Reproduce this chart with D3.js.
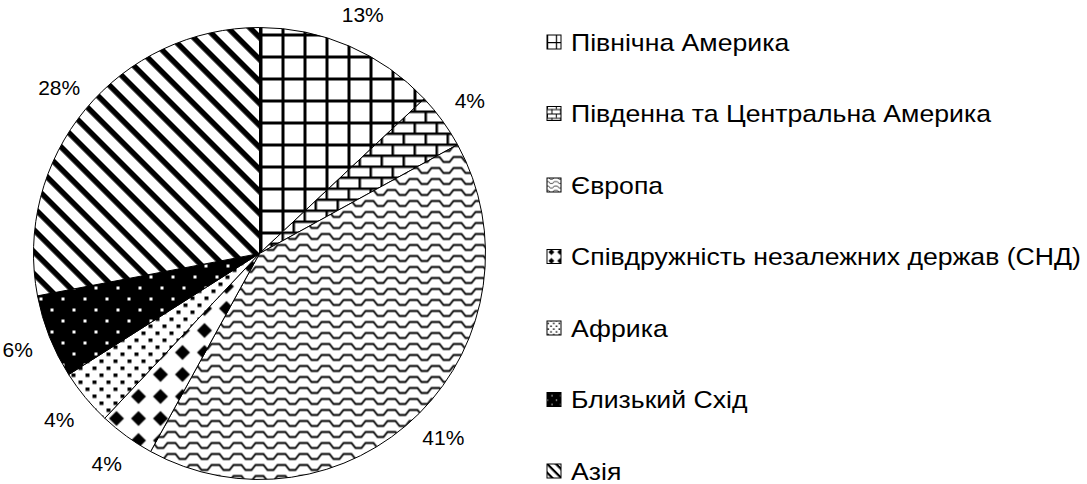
<!DOCTYPE html>
<html>
<head>
<meta charset="utf-8">
<script src="https://cdn.jsdelivr.net/npm/d3@7"></script>
<style>
  html, body { margin: 0; padding: 0; background: #fff; }
  svg { display: block; }
  text { font-family: "Liberation Sans", Arial, sans-serif; fill: #000; }
</style>
</head>
<body>
<div id="chart"></div>
<script>
// Region shares (%), clockwise from 12 o'clock
const regions = [
  "Північна Америка",
  "Південна та Центральна Америка",
  "Європа",
  "Співдружність незалежних держав (СНД)",
  "Африка",
  "Близький Схід",
  "Азія"
];
const shares = [13, 4, 41, 4, 4, 6, 28];
const patternNames = ["grid", "brick", "wave", "diamond", "confetti", "dots", "stripes"];

const width = 1087, height = 484;
const cx = 259.5, cy = 253.5, radius = 226;

const svg = d3.select("#chart")
  .append("svg")
  .attr("width", width)
  .attr("height", height);

svg.append("rect").attr("width", width).attr("height", height).attr("fill", "#fff");

const defs = svg.append("defs");

// pattern builders (unit cell ~22px, like an 8x8 Excel fill upscaled)
function makePattern(name, id, k) {
  const p = defs.append("pattern")
    .attr("id", id)
    .attr("patternUnits", "userSpaceOnUse");
  let w = 22, h = 22, tr = `scale(${k})`;
  if (name === "wave") h = 11;
  if (name === "confetti") { w = 14; h = 14; }
  if (name === "stripes") { w = 22; h = 22 / Math.SQRT2; tr = `scale(${k}) rotate(45)`; }
  p.attr("width", w).attr("height", h).attr("patternTransform", tr);
  p.append("rect").attr("width", w).attr("height", h)
    .attr("fill", name === "dots" ? "#000" : "#fff");

  if (name === "grid") {
    p.append("rect").attr("x", 0).attr("y", 0).attr("width", 3).attr("height", 22).attr("fill", "#000");
    p.append("rect").attr("x", 0).attr("y", 0).attr("width", 22).attr("height", 3).attr("fill", "#000");
  } else if (name === "brick") {
    p.append("rect").attr("x", 0).attr("y", 0).attr("width", 22).attr("height", 2.5).attr("fill", "#000");
    p.append("rect").attr("x", 0).attr("y", 11).attr("width", 22).attr("height", 2.5).attr("fill", "#000");
    p.append("rect").attr("x", 0).attr("y", 0).attr("width", 2.5).attr("height", 11).attr("fill", "#000");
    p.append("rect").attr("x", 11).attr("y", 11).attr("width", 2.5).attr("height", 11).attr("fill", "#000");
  } else if (name === "wave") {
    p.append("path")
      .attr("d", "M-2,2.5 H4 L8,7.5 H14 L18,2.5 H24")
      .attr("fill", "none").attr("stroke", "#000").attr("stroke-width", 1.8);
  } else if (name === "diamond") {
    p.append("path")
      .attr("d", "M11,3.5 L18.5,11 L11,18.5 L3.5,11 Z")
      .attr("fill", "#000");
  } else if (name === "confetti") {
    p.append("rect").attr("x", 1).attr("y", 1).attr("width", 4).attr("height", 3.5).attr("fill", "#000");
    p.append("rect").attr("x", 8).attr("y", 8).attr("width", 4).attr("height", 3.5).attr("fill", "#000");
  } else if (name === "dots") {
    p.append("rect").attr("x", 0).attr("y", 0).attr("width", 3).attr("height", 3).attr("fill", "#fff");
    p.append("rect").attr("x", 11).attr("y", 11).attr("width", 3).attr("height", 3).attr("fill", "#fff");
  } else if (name === "stripes") {
    p.append("rect").attr("x", 0).attr("y", 0).attr("width", w).attr("height", 5.5).attr("fill", "#000");
  }
}

patternNames.forEach((n) => {
  makePattern(n, "pat-" + n, 1);
  makePattern(n, "pat-sm-" + n, 0.4);
});

// Pie
const pie = d3.pie().sort(null).value((d) => d)
  .startAngle(0).endAngle(2 * Math.PI);
const arcs = pie(shares);

const arc = d3.arc().innerRadius(0).outerRadius(radius);
const labelArc = d3.arc().innerRadius(radius + 34).outerRadius(radius + 34);

const g = svg.append("g").attr("transform", `translate(${cx},${cy})`);

g.selectAll("path.slice")
  .data(arcs)
  .join("path")
  .attr("class", "slice")
  .attr("d", arc)
  .attr("fill", (d, i) => `url(#pat-${patternNames[i]})`)
  .attr("stroke", "#000")
  .attr("stroke-width", 1);

g.selectAll("text.pct")
  .data(arcs)
  .join("text")
  .attr("class", "pct")
  .attr("transform", (d) => `translate(${labelArc.centroid(d)})`)
  .attr("text-anchor", "middle")
  .attr("dy", "0.36em")
  .attr("font-size", "21px")
  .text((d) => d.data + "%");

// Legend
const legendY = d3.scalePoint().domain(regions).range([42, 471]);
const legend = svg.append("g").attr("transform", "translate(547,0)");

const items = legend.selectAll("g.item")
  .data(regions)
  .join("g")
  .attr("class", "item")
  .attr("transform", (d) => `translate(0,${legendY(d)})`);

items.append("rect")
  .attr("x", 0).attr("y", -7)
  .attr("width", 14).attr("height", 14)
  .attr("fill", (d, i) => `url(#pat-sm-${patternNames[i]})`)
  .attr("stroke", "#000")
  .attr("stroke-width", 1);

// legend text in the reference is drawn a bit wider than plain Arial
items.append("text")
  .attr("transform", "translate(24,0) scale(1.11,1)")
  .attr("dy", "0.36em")
  .attr("font-size", "24px")
  .text((d) => d);
</script>
</body>
</html>
